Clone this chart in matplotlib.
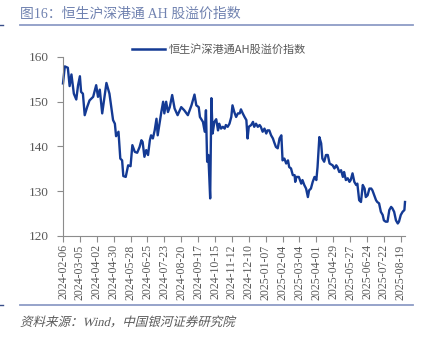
import matplotlib
matplotlib.use("Agg")
import matplotlib.pyplot as plt
import matplotlib.dates as mdates
import pandas as pd
from matplotlib.lines import Line2D
from matplotlib.textpath import TextPath
from matplotlib.patches import PathPatch
from matplotlib.font_manager import FontProperties
from matplotlib.transforms import Affine2D, IdentityTransform

# ---- data (days after 2024-02-06, index value) ----
start_date = "2024-02-06"
day_offsets = [
    0, 3, 8, 11, 14, 18, 22, 25, 28, 30, 33, 36, 40, 44, 50, 55, 58, 61, 65, 72,
    77, 83, 86, 88, 92, 95, 98, 100, 104, 108, 112, 115, 119, 123, 127, 130, 132, 135, 138, 141,
    144, 146, 149, 152, 155, 157, 160, 163, 166, 168, 171, 174, 177, 181, 185, 190, 196, 201, 207, 213,
    218, 221, 225, 227, 232, 235, 237, 239, 241, 244, 246, 248, 251, 254, 257, 259, 262, 265, 268, 270,
    273, 276, 279, 281, 284, 287, 290, 293, 295, 298, 301, 304, 306, 308, 312, 315, 317, 320, 323, 326,
    328, 331, 334, 337, 339, 342, 345, 348, 350, 353, 356, 359, 362, 364, 367, 370, 373, 375, 378, 381,
    384, 385, 387, 391, 395, 397, 400, 403, 406, 408, 411, 414, 417, 420, 422, 425, 428, 430, 433, 436,
    439, 442, 447, 450, 453, 455, 458, 461, 464, 466, 469, 472, 475, 477, 480, 483, 486, 488, 491, 494,
    497, 500, 502, 505, 508, 511, 513, 516, 519, 521, 524, 527, 530, 532, 535, 538, 541, 544, 546, 549,
    552, 555, 557, 560, 563, 566, 567,
]
ah_premium = [
    154.1, 157.9, 157.6, 153.5, 156.1, 151.8, 150.5, 153.7, 155.7, 152.2, 151.8, 147.0, 148.8, 150.3, 151.1, 153.7, 151.1, 152.7, 147.4, 154.2,
    151.8, 145.9, 145.1, 142.3, 143.3, 137.3, 136.9, 133.4, 133.2, 135.8, 135.6, 140.3, 138.8, 138.6, 139.9, 141.4, 141.0, 137.7, 139.2, 138.1,
    141.4, 142.5, 141.8, 143.6, 146.2, 142.5, 145.1, 147.7, 150.0, 147.4, 150.0, 147.7, 148.8, 151.5, 148.5, 147.0, 148.8, 148.1, 147.0, 149.2,
    151.6, 149.2, 148.8, 146.6, 145.5, 143.3, 148.1, 136.6, 138.1, 128.4, 150.8, 142.9, 145.5, 146.1, 143.6, 145.1, 144.0, 144.4, 144.0, 144.8,
    144.4, 145.1, 146.6, 149.2, 147.7, 146.6, 147.4, 147.4, 148.3, 147.4, 146.6, 145.9, 141.8, 144.4, 144.8, 145.5, 144.4, 145.1, 144.4, 144.8,
    144.4, 143.3, 144.0, 142.9, 143.6, 143.6, 142.5, 141.8, 141.0, 139.9, 139.6, 141.8, 142.5, 136.9, 137.3, 136.2, 136.9, 135.4, 135.1, 133.6,
    133.6, 132.1, 133.2, 133.2, 131.7, 132.5, 131.4, 130.6, 128.7, 130.2, 130.6, 132.1, 133.2, 132.5, 135.4, 142.1, 140.7, 137.3, 136.6, 138.1,
    138.1, 136.2, 135.8, 135.1, 135.8, 135.4, 134.3, 134.7, 133.2, 134.3, 132.5, 132.9, 132.1, 132.5, 134.0, 132.1, 131.4, 131.7, 128.0, 127.6,
    131.4, 130.6, 128.7, 129.1, 130.6, 130.6, 130.2, 129.1, 128.0, 127.6, 127.3, 125.4, 124.7, 123.5, 123.2, 123.2, 125.8, 126.5, 126.2, 125.4,
    123.5, 122.8, 123.2, 124.7, 125.4, 125.8, 127.6,
]
tick_dates = pd.date_range("2024-02-06", "2025-08-19", freq="28D")
y_ticks = [120, 130, 140, 150, 160]

title_text = "图16：恒生沪深港通 AH 股溢价指数"
series_name = "恒生沪深港通AH股溢价指数"
source_text = "资料来源：Wind，中国银河证券研究院"

# ---- styling ----
FAM = ["Liberation Serif", "Noto Sans CJK SC", "DejaVu Sans"]
plt.rcParams["font.family"] = FAM
LINE_C = "#143a94"
GRAY = "#595959"
AX_C = "#8c8c8c"
DECO_C = "#8e9cc6"
W, H, DPI = 426, 340, 100

dates = pd.Timestamp(start_date) + pd.to_timedelta(day_offsets, unit="D")

fig = plt.figure(figsize=(W / DPI, H / DPI), dpi=DPI)
ax = fig.add_axes([63 / W, 1 - 236 / H, (405 - 63) / W, (236 - 57) / H])

ax.plot(dates, ah_premium, color=LINE_C, lw=1.7, solid_joinstyle="round", clip_on=False)

ax.set_xlim(pd.Timestamp(start_date), dates[-1])
ax.set_ylim(y_ticks[0], y_ticks[-1])
ax.set_yticks(y_ticks)
ax.set_xticks(tick_dates)
ax.xaxis.set_major_formatter(mdates.DateFormatter("%Y-%m-%d"))

for s in ["top", "right"]:
    ax.spines[s].set_visible(False)
for s in ["left", "bottom"]:
    ax.spines[s].set_color(AX_C)
    ax.spines[s].set_linewidth(0.8)
ax.tick_params(axis="both", direction="out", length=4, width=0.8, color=AX_C, labelcolor=GRAY)
ax.tick_params(axis="y", labelsize=9.5, pad=6)
ax.tick_params(axis="x", labelsize=8.5, rotation=90, pad=2)

# legend
leg_handle = Line2D([0], [0], color=LINE_C, lw=1.8)
fig.legend([leg_handle], [series_name], loc="center left",
           bbox_to_anchor=(128 / W, 1 - 49 / H), frameon=False,
           handlelength=2.9, handletextpad=0.35, borderaxespad=0,
           prop={"family": ["Noto Sans CJK SC"], "size": 8}, labelcolor=GRAY)

# title + rules
fig.text(20 / W, 1 - 14 / H, title_text, color="#7082b0", fontsize=10,
         va="center", ha="left", family=FAM)
fig.add_artist(Line2D([20 / W, 413 / W], [1 - 25 / H, 1 - 25 / H], color=DECO_C, lw=1.3))
fig.add_artist(Line2D([20 / W, 413 / W], [1 - 305 / H, 1 - 305 / H], color=DECO_C, lw=1.3))
fig.add_artist(Line2D([0, 3 / W], [1 - 25 / H, 1 - 25 / H], color="#3a4f8a", lw=1))
fig.add_artist(Line2D([0, 3 / W], [1 - 305 / H, 1 - 305 / H], color="#3a4f8a", lw=1))

# source (slanted like the reference italic, CJK fonts have no italic face)
src_size_px = 9 * DPI / 72
tp = TextPath((0, 0), source_text, size=src_size_px,
              prop=FontProperties(family=["Liberation Serif", "Noto Sans CJK SC"]))
tr = Affine2D().skew_deg(14, 0).translate(20, H - 326)
patch = PathPatch(tr.transform_path(tp), transform=IdentityTransform(),
                  facecolor=GRAY, edgecolor="none")
fig.add_artist(patch)

fig.savefig("out.png", dpi=DPI)
